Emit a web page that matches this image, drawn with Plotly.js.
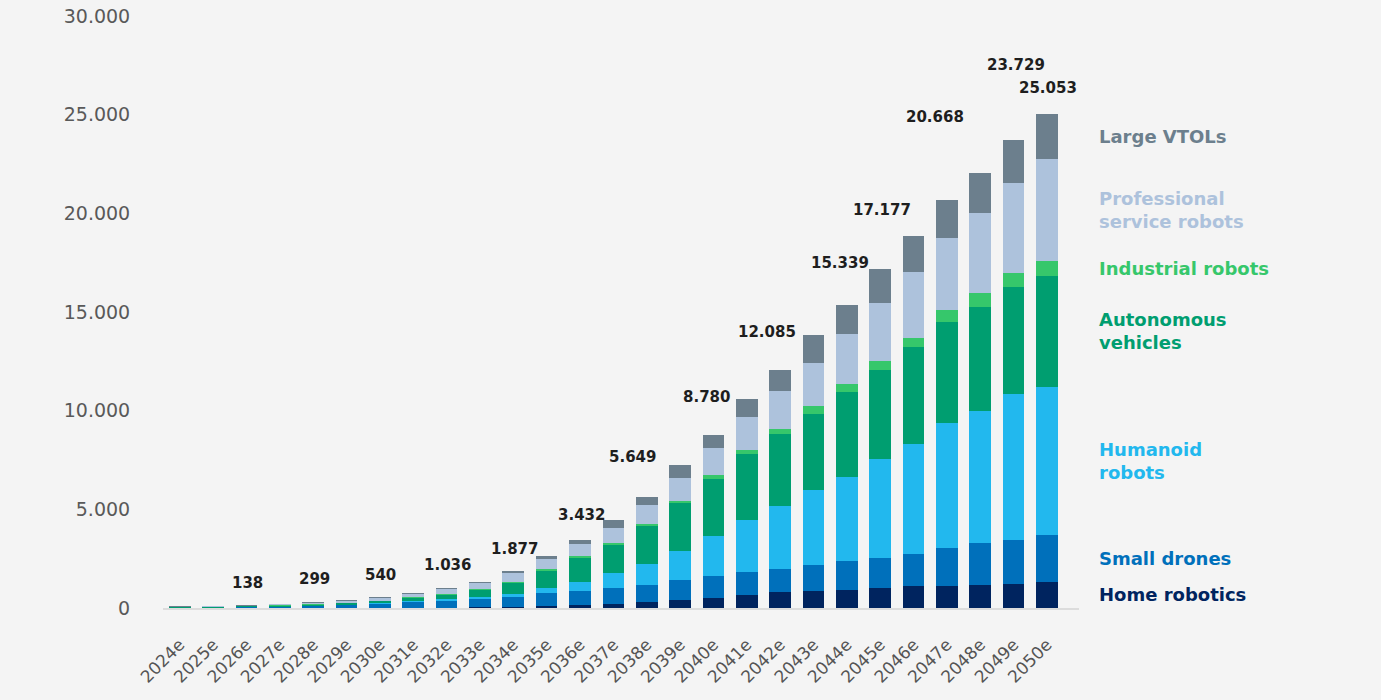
<!DOCTYPE html>
<html>
<head>
<meta charset="utf-8">
<script src="https://cdn.plot.ly/plotly-3.0.1.min.js"></script>
<style>
  html, body { margin: 0; padding: 0; background: #f4f4f4; }
  #chart { width: 1381px; height: 700px; }
</style>
</head>
<body>
<div id="chart"></div>
<script>
var years = ['2024e', '2025e', '2026e', '2027e', '2028e', '2029e', '2030e', '2031e', '2032e',
    '2033e', '2034e', '2035e', '2036e', '2037e', '2038e', '2039e', '2040e', '2041e', '2042e',
    '2043e', '2044e', '2045e', '2046e', '2047e', '2048e', '2049e', '2050e'];

// units per year, bottom segment first
var homeRobotics = [1, 1, 2, 3, 5, 8, 10, 15, 20, 30, 65, 120, 140, 220, 290, 420, 510, 680, 800, 880, 935, 1000, 1100, 1135, 1180, 1240, 1320];
var smallDrones = [10, 15, 25, 50, 90, 130, 180, 270, 345, 420, 470, 625, 740, 780, 870, 1010, 1110, 1130, 1190, 1285, 1445, 1550, 1660, 1915, 2110, 2190, 2400];
var humanoidRobots = [3, 5, 8, 12, 20, 30, 45, 50, 72, 85, 150, 270, 440, 780, 1055, 1440, 2010, 2640, 3155, 3800, 4280, 5010, 5560, 6350, 6680, 7420, 7500];
var autonomousVehicles = [18, 25, 45, 60, 55, 70, 100, 170, 245, 370, 570, 880, 1215, 1420, 1920, 2450, 2900, 3330, 3680, 3870, 4265, 4500, 4920, 5115, 5290, 5400, 5590];
var industrialRobots = [12, 15, 20, 25, 25, 30, 35, 45, 50, 50, 68, 85, 105, 100, 120, 120, 205, 250, 255, 390, 425, 460, 460, 610, 680, 745, 795];
var professionalRobots = [30, 30, 20, 40, 65, 100, 115, 165, 220, 290, 437, 505, 580, 760, 970, 1150, 1365, 1640, 1920, 2200, 2550, 2950, 3330, 3645, 4060, 4530, 5130];
var largeVTOLs = [15, 15, 18, 30, 39, 50, 55, 65, 84, 85, 117, 170, 212, 390, 424, 640, 680, 945, 1085, 1385, 1439, 1707, 1830, 1898, 2030, 2204, 2318];

// years that carry a total label
var labelYears = ['2026e', '2028e', '2030e', '2032e', '2034e', '2036e', '2038e', '2040e',
    '2042e', '2044e', '2045e', '2047e', '2049e', '2050e'];

var series = [
    { name: 'Home robotics', values: homeRobotics, color: '#00245f' },
    { name: 'Small drones', values: smallDrones, color: '#0070bb' },
    { name: 'Humanoid<br>robots', values: humanoidRobots, color: '#22b8ee' },
    { name: 'Autonomous<br>vehicles', values: autonomousVehicles, color: '#009e70' },
    { name: 'Industrial robots', values: industrialRobots, color: '#36c76b' },
    { name: 'Professional<br>service robots', values: professionalRobots, color: '#adc2dc' },
    { name: 'Large VTOLs', values: largeVTOLs, color: '#6c7f8d' }
];

// label placement tweaks in px: [xshift, yshift]
var labelShift = [[1, 22], [1, 23], [1, 22], [1, 23], [1, 22], [2, 25], [-14, 40], [-7, 38],
    [-13, 38], [-7, 42], [2, 59], [-12, 83], [2, 75], [1, 26]];

var font = 'DejaVu Sans, sans-serif';

function fmt(n) {
    return String(Math.round(n)).replace(/\B(?=(\d{3})+(?!\d))/g, '.');
}

var totals = years.map(function (y, i) {
    return series.reduce(function (s, d) { return s + d.values[i]; }, 0);
});

var data = series.map(function (d) {
    return {
        type: 'bar',
        x: years,
        y: d.values,
        name: d.name,
        marker: { color: d.color },
        hoverinfo: 'skip'
    };
});

var annotations = labelYears.map(function (y, j) {
    var i = years.indexOf(y);
    return {
        x: y, y: totals[i], xref: 'x', yref: 'y',
        text: fmt(totals[i]), showarrow: false,
        xanchor: 'center', yanchor: 'middle',
        xshift: labelShift[j][0], yshift: labelShift[j][1],
        font: { family: font, size: 15, color: '#1e1e1e', weight: 'bold' }
    };
});

// right-hand labels sit at the middle of each segment of the last bar
var last = years.length - 1;
var base = 0;
series.forEach(function (d) {
    var v = d.values[last];
    annotations.push({
        x: 1.0195, xref: 'paper', y: base + v / 2, yref: 'y',
        text: d.name, showarrow: false, align: 'left',
        xanchor: 'left', yanchor: 'middle',
        font: { family: font, size: 18, color: d.color, weight: 'bold' }
    });
    base += v;
});

var layout = {
    width: 1381,
    height: 700,
    barmode: 'stack',
    bargap: 0.35,
    showlegend: false,
    paper_bgcolor: '#f4f4f4',
    plot_bgcolor: '#f4f4f4',
    separators: ',.',
    margin: { l: 163, r: 302, t: 16, b: 92 },
    font: { family: font, color: '#595959' },
    xaxis: {
        type: 'category',
        tickangle: -45,
        ticks: 'outside', ticklen: 18, tickcolor: 'rgba(0,0,0,0)',
        tickfont: { family: font, size: 17, color: '#555555' },
        showline: true, linecolor: '#dcdcdc', linewidth: 2,
        showgrid: false, zeroline: false
    },
    yaxis: {
        range: [0, 30000],
        dtick: 5000,
        tickformat: ',d',
        ticks: 'outside', ticklen: 28, tickcolor: 'rgba(0,0,0,0)',
        tickfont: { family: font, size: 19, color: '#595959' },
        showgrid: false, zeroline: false, showline: false
    },
    annotations: annotations
};

Plotly.newPlot('chart', data, layout, { displayModeBar: false, staticPlot: true });
</script>
</body>
</html>
